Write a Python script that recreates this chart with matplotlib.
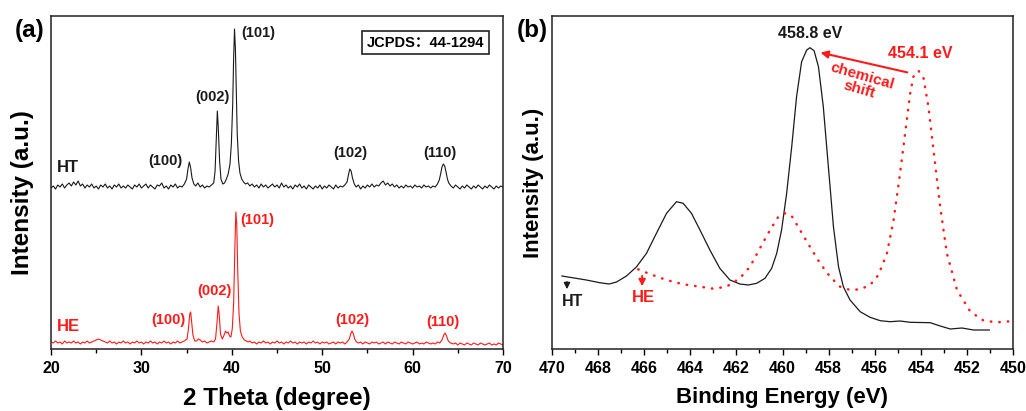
import numpy as np
import matplotlib
matplotlib.use("Agg")
import matplotlib.pyplot as plt
from matplotlib.ticker import MultipleLocator

plt.rcParams['font.family'] = ['Liberation Sans', 'Noto Sans CJK SC', 'DejaVu Sans']
plt.rcParams['font.weight'] = 'bold'

# ---- panel (a): XRD, (2theta, intensity) ----
ht_xrd = [
    (20.0, 161), (20.25, 163), (20.5, 160), (20.75, 164), (21.0, 162), (21.25, 165), (21.5, 161), (21.75, 164),
    (22.0, 166), (22.25, 163), (22.5, 167), (22.75, 164), (23.0, 168), (23.25, 163), (23.5, 165), (23.75, 161),
    (24.0, 164), (24.25, 162), (24.5, 165), (24.75, 161), (25.0, 163), (25.25, 160), (25.5, 164), (25.75, 162),
    (26.0, 165), (26.25, 161), (26.5, 163), (26.75, 160), (27.0, 164), (27.25, 162), (27.5, 165), (27.75, 161),
    (28.0, 163), (28.25, 161), (28.5, 164), (28.75, 162), (29.0, 160), (29.25, 164), (29.5, 162), (29.75, 165),
    (30.0, 161), (30.25, 163), (30.5, 165), (30.75, 161), (31.0, 164), (31.25, 162), (31.5, 160), (31.75, 164),
    (32.0, 163), (32.25, 166), (32.5, 161), (32.75, 163), (33.0, 160), (33.25, 164), (33.5, 162), (33.75, 165),
    (34.0, 161), (34.25, 163), (34.5, 162), (34.75, 165),
    (35.0, 170), (35.15, 180), (35.3, 187), (35.45, 181), (35.6, 171), (35.8, 165),
    (36.0, 163), (36.25, 166), (36.5, 162), (36.75, 164), (37.0, 161), (37.25, 163), (37.5, 162), (37.75, 164),
    (38.0, 166), (38.15, 178), (38.3, 215), (38.4, 238), (38.5, 222), (38.65, 188), (38.8, 170), (39.0, 165),
    (39.2, 166), (39.4, 170), (39.6, 175), (39.8, 185), (39.95, 205), (40.1, 245), (40.2, 290), (40.3, 320),
    (40.4, 300), (40.5, 255), (40.6, 215), (40.75, 188), (40.9, 176), (41.1, 170), (41.3, 167), (41.5, 165),
    (41.75, 166), (42.0, 163), (42.25, 165), (42.5, 162), (42.75, 164), (43.0, 161), (43.25, 165), (43.5, 162),
    (43.75, 164), (44.0, 161), (44.25, 163), (44.5, 165), (44.75, 162), (45.0, 164), (45.25, 161), (45.5, 166),
    (45.75, 162), (46.0, 164), (46.25, 161), (46.5, 163), (46.75, 160), (47.0, 164), (47.25, 162), (47.5, 165),
    (47.75, 161), (48.0, 163), (48.25, 160), (48.5, 164), (48.75, 162), (49.0, 160), (49.25, 163), (49.5, 161),
    (49.75, 164), (50.0, 160), (50.25, 163), (50.5, 161), (50.75, 164), (51.0, 162), (51.25, 160), (51.5, 164),
    (51.75, 161), (52.0, 163), (52.25, 162), (52.5, 164),
    (52.75, 167), (52.9, 174), (53.05, 180), (53.2, 178), (53.35, 171), (53.55, 165), (53.75, 162),
    (54.0, 164), (54.25, 160), (54.5, 163), (54.75, 161), (55.0, 164), (55.25, 162), (55.5, 165), (55.75, 162),
    (56.0, 164), (56.25, 163), (56.5, 166), (56.75, 168), (57.0, 164), (57.25, 166), (57.5, 163), (57.75, 165),
    (58.0, 162), (58.25, 164), (58.5, 161), (58.75, 163), (59.0, 161), (59.25, 164), (59.5, 162), (59.75, 163),
    (60.0, 161), (60.25, 164), (60.5, 162), (60.75, 163), (61.0, 161), (61.25, 164), (61.5, 162), (61.75, 163),
    (62.0, 161), (62.25, 163), (62.5, 162), (62.75, 165),
    (62.95, 169), (63.1, 175), (63.25, 182), (63.4, 185), (63.55, 183), (63.7, 177), (63.85, 170), (64.0, 166),
    (64.25, 163), (64.5, 161), (64.75, 164), (65.0, 162), (65.25, 160), (65.5, 163), (65.75, 161), (66.0, 164),
    (66.25, 162), (66.5, 160), (66.75, 163), (67.0, 161), (67.25, 164), (67.5, 162), (67.75, 160), (68.0, 163),
    (68.25, 161), (68.5, 164), (68.75, 162), (69.0, 160), (69.25, 163), (69.5, 161), (69.75, 163), (70.0, 162),
]

he_xrd = [
    (20.0, 7), (20.25, 6), (20.5, 8), (20.75, 6), (21.0, 7), (21.25, 5), (21.5, 8), (21.75, 6),
    (22.0, 7), (22.25, 6), (22.5, 8), (22.75, 6), (23.0, 7), (23.25, 5), (23.5, 7), (23.75, 6),
    (24.0, 8), (24.25, 6), (24.5, 7), (24.75, 8), (25.0, 9), (25.25, 10), (25.5, 9), (25.75, 8),
    (26.0, 7), (26.25, 6), (26.5, 8), (26.75, 6), (27.0, 7), (27.25, 5), (27.5, 7), (27.75, 6),
    (28.0, 8), (28.25, 6), (28.5, 7), (28.75, 5), (29.0, 7), (29.25, 6), (29.5, 8), (29.75, 6),
    (30.0, 7), (30.25, 5), (30.5, 7), (30.75, 6), (31.0, 8), (31.25, 6), (31.5, 7), (31.75, 5),
    (32.0, 7), (32.25, 6), (32.5, 8), (32.75, 6), (33.0, 7), (33.25, 5), (33.5, 7), (33.75, 6),
    (34.0, 8), (34.25, 6), (34.5, 7), (34.75, 8),
    (35.05, 10), (35.2, 20), (35.35, 35), (35.45, 37), (35.55, 28), (35.7, 14), (35.9, 8),
    (36.1, 8), (36.3, 10), (36.5, 9), (36.75, 7), (37.0, 8), (37.25, 6), (37.5, 7), (37.75, 8), (38.0, 7),
    (38.2, 10), (38.35, 25), (38.5, 43), (38.6, 35), (38.75, 15), (38.95, 10), (39.15, 14), (39.3, 18),
    (39.45, 16), (39.6, 17), (39.75, 13), (39.9, 12), (40.05, 20),
    (40.2, 45), (40.35, 105), (40.45, 137), (40.55, 125), (40.65, 80), (40.8, 35), (40.95, 18), (41.15, 12),
    (41.4, 9), (41.6, 8), (41.85, 7), (42.0, 8), (42.25, 6), (42.5, 7), (42.75, 5), (43.0, 7),
    (43.25, 6), (43.5, 8), (43.75, 6), (44.0, 7), (44.25, 5), (44.5, 7), (44.75, 6), (45.0, 8),
    (45.25, 6), (45.5, 7), (45.75, 5), (46.0, 7), (46.25, 6), (46.5, 8), (46.75, 6), (47.0, 7),
    (47.25, 5), (47.5, 7), (47.75, 6), (48.0, 7), (48.25, 5), (48.5, 7), (48.75, 6), (49.0, 8),
    (49.25, 6), (49.5, 7), (49.75, 5), (50.0, 7), (50.25, 6), (50.5, 7), (50.75, 5), (51.0, 6),
    (51.25, 7), (51.5, 5), (51.75, 7), (52.0, 6), (52.25, 7), (52.5, 5), (52.75, 7),
    (53.0, 10), (53.15, 15), (53.3, 18), (53.45, 15), (53.6, 10), (53.8, 7),
    (54.0, 6), (54.25, 7), (54.5, 5), (54.75, 7), (55.0, 6), (55.25, 5), (55.5, 7), (55.75, 6),
    (56.0, 7), (56.25, 5), (56.5, 6), (56.75, 7), (57.0, 5), (57.25, 7), (57.5, 6), (57.75, 5),
    (58.0, 7), (58.25, 6), (58.5, 5), (58.75, 7), (59.0, 6), (59.25, 5), (59.5, 7), (59.75, 6),
    (60.0, 5), (60.25, 6), (60.5, 7), (60.75, 5), (61.0, 6), (61.25, 5), (61.5, 7), (61.75, 6),
    (62.0, 5), (62.25, 6), (62.5, 5), (62.75, 7), (63.0, 6),
    (63.25, 9), (63.45, 14), (63.6, 16), (63.75, 13), (63.95, 8), (64.2, 6),
    (64.5, 5), (64.75, 6), (65.0, 4), (65.25, 6), (65.5, 5), (65.75, 4), (66.0, 6), (66.25, 5),
    (66.5, 4), (66.75, 6), (67.0, 5), (67.25, 4), (67.5, 6), (67.75, 5), (68.0, 4), (68.25, 5),
    (68.5, 6), (68.75, 4), (69.0, 5), (69.25, 4), (69.5, 6), (69.75, 5), (70.0, 4),
]

# peak labels: (text, x, y)
ht_labels = [("(100)", 32.67, 188), ("(002)", 37.9, 252), ("(101)", 42.96, 316),
             ("(102)", 53.16, 196), ("(110)", 63.04, 196)]
he_labels = [("(100)", 32.97, 29), ("(002)", 38.13, 58), ("(101)", 42.85, 129),
             ("(102)", 53.35, 29), ("(110)", 63.37, 27)]

# ---- panel (b): XPS, (binding energy, intensity) ----
ht_xps = [
    (469.57, 73), (468.51, 69), (467.93, 66.3), (467.52, 65), (467.2, 67), (466.77, 73), (466.34, 82),
    (465.9, 95.7), (465.47, 115.7), (465.03, 135.7), (464.6, 147.3), (464.31, 145.7), (463.95, 135.7),
    (463.58, 119), (463.15, 99), (462.72, 80.7), (462.28, 69), (461.85, 65), (461.48, 64), (461.12, 65.7),
    (460.76, 70.7), (460.47, 80.7), (460.25, 95.7), (460.04, 119), (459.82, 155.7), (459.6, 202.3),
    (459.39, 252.3), (459.17, 287.3), (458.95, 299), (458.81, 301.3), (458.63, 298.3), (458.44, 282.3),
    (458.23, 242.3), (458.01, 182.3), (457.79, 122.3), (457.57, 82.3), (457.36, 62.3), (457.07, 49),
    (456.63, 37.3), (456.2, 31.7), (455.76, 28.3), (455.33, 27.3), (454.9, 28), (454.46, 26.7),
    (453.59, 26.3), (453.16, 23), (452.72, 20), (452.22, 21), (451.71, 19), (451.03, 19),
]
he_xps = [
    (466.26, 79.7), (465.76, 75), (465.03, 69), (464.31, 64.7), (463.58, 62.3), (463.0, 60.3), (462.43, 62.3),
    (461.85, 70.7), (461.41, 82.3), (460.98, 100.7), (460.54, 119), (460.18, 132.3), (459.89, 135.7),
    (459.6, 133), (459.24, 119), (458.81, 102.3), (458.37, 85.7), (457.94, 72.3), (457.5, 62.3),
    (457.07, 59), (456.63, 59.7), (456.2, 64), (455.84, 74), (455.47, 95.7), (455.18, 129), (454.9, 175.7),
    (454.68, 215.7), (454.46, 255.7), (454.32, 272.3), (454.1, 278.3), (453.88, 270.7), (453.67, 242.3),
    (453.45, 199), (453.16, 142.3), (452.87, 95.7), (452.43, 59), (451.85, 37.3), (451.27, 28.3),
    (450.7, 26.7), (450.12, 27.7),
]

RED = '#ff1a1a'


def style_axis(ax, major, minor):
    for s in ax.spines.values():
        s.set_linewidth(1.1)
        s.set_color('#222222')
    ax.set_yticks([])
    ax.xaxis.set_major_locator(MultipleLocator(major))
    ax.xaxis.set_minor_locator(MultipleLocator(minor))
    ax.tick_params(axis='x', which='major', direction='out', length=4.5, width=1.0, labelsize=11.5, pad=4)
    ax.tick_params(axis='x', which='minor', direction='out', length=3, width=1.0)
    for lab in ax.get_xticklabels():
        lab.set_fontweight('bold')


def plotXRD(ax):
    x1, y1 = zip(*ht_xrd)
    x2, y2 = zip(*he_xrd)
    ax.plot(x1, y1, color='#1a1a1a', lw=0.8)
    ax.plot(x2, y2, color=RED, lw=0.8)
    ax.set_xlim(20, 70)
    ax.set_ylim(0, 333)
    style_axis(ax, 10, 5)

    for t, x, y in ht_labels:
        ax.text(x, y, t, ha='center', va='center', fontsize=10.5, fontweight='bold', color='#1a1a1a')
    for t, x, y in he_labels:
        ax.text(x, y, t, ha='center', va='center', fontsize=10.5, fontweight='bold', color=RED)
    ax.text(21.9, 181, "HT", ha='center', va='center', fontsize=12, fontweight='bold', color='#1a1a1a')
    ax.text(21.9, 23, "HE", ha='center', va='center', fontsize=12, fontweight='bold', color=RED)

    ax.text(0.8285, 0.92, "JCPDS：44-1294", transform=ax.transAxes, ha='center', va='center',
            fontsize=10.5, fontweight='bold',
            bbox=dict(boxstyle='square,pad=0.3', facecolor='white', edgecolor='#222222', lw=1.2))

    ax.set_xlabel("2 Theta (degree)", fontsize=17.5, fontweight='bold')
    ax.xaxis.set_label_coords(0.5, -0.115)
    ax.set_ylabel("Intensity (a.u.)", fontsize=17.5, fontweight='bold')
    ax.yaxis.set_label_coords(-0.038, 0.47)
    return ax


def plotXPS(ax):
    x1, y1 = zip(*ht_xps)
    x2, y2 = zip(*he_xps)
    ax.plot(x1, y1, color='#1a1a1a', lw=0.9)
    ax.plot(x2, y2, color=RED, lw=1.8, dashes=(0.2, 3.2), dash_capstyle='round')
    ax.set_xlim(470, 450)
    ax.set_ylim(0, 333)
    style_axis(ax, 2, 1)

    ax.text(458.81, 316, "458.8 eV", ha='center', va='center', fontsize=11.5, fontweight='bold', color='#1a1a1a')
    ax.text(454.03, 296, "454.1 eV", ha='center', va='center', fontsize=11.5, fontweight='bold', color=RED)
    ax.annotate('', xy=(458.47, 297), xytext=(454.47, 276),
                arrowprops=dict(arrowstyle='-|>', color=RED, lw=1.5, mutation_scale=11))
    ax.text(456.56, 273, "chemical", rotation=-16, rotation_mode='anchor', ha='center', va='center',
            fontsize=11, fontweight='bold', color=RED)
    ax.text(456.69, 259, "shift", rotation=-16, rotation_mode='anchor', ha='center', va='center',
            fontsize=11, fontweight='bold', color=RED)

    ax.annotate('', xy=(469.35, 57), xytext=(469.35, 70),
                arrowprops=dict(arrowstyle='-|>', color='#1a1a1a', lw=1.1, mutation_scale=9))
    ax.text(469.12, 47, "HT", ha='center', va='center', fontsize=11.5, fontweight='bold', color='#1a1a1a')
    ax.annotate('', xy=(466.09, 60), xytext=(466.09, 76),
                arrowprops=dict(arrowstyle='-|>', color=RED, lw=1.3, mutation_scale=10))
    ax.text(466.02, 51, "HE", ha='center', va='center', fontsize=12, fontweight='bold', color=RED)

    ax.set_xlabel("Binding Energy (eV)", fontsize=16, fontweight='bold')
    ax.xaxis.set_label_coords(0.5, -0.115)
    ax.set_ylabel("Intensity (a.u.)", fontsize=16, fontweight='bold')
    ax.yaxis.set_label_coords(-0.017, 0.5)
    return ax


def main():
    fig = plt.figure(figsize=(10.26, 4.11), dpi=100)
    ax1 = fig.add_axes([51 / 1026, 62 / 411, 452 / 1026, 333 / 411])
    ax2 = fig.add_axes([552 / 1026, 62 / 411, 461 / 1026, 333 / 411])
    plotXRD(ax1)
    plotXPS(ax2)
    fig.text(30 / 1026, 1 - 31 / 411, "(a)", ha='center', va='center', fontsize=17.5, fontweight='bold')
    fig.text(532 / 1026, 1 - 31 / 411, "(b)", ha='center', va='center', fontsize=17.5, fontweight='bold')
    fig.savefig("out.png", dpi=100)


if __name__ == "__main__":
    main()
